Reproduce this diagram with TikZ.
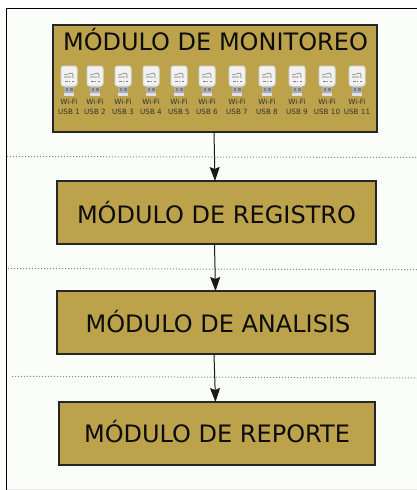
\documentclass[tikz,border=0pt]{standalone}
\usepackage{fontspec}
\setmainfont{DejaVu Sans}
\definecolor{mygold}{RGB}{187,162,75}
\definecolor{mypaper}{RGB}{251,253,249}
\tikzset{
	modulo/.style={rectangle,draw=black!85,fill=mygold,line width=1.2pt,inner sep=0pt,outer sep=0pt,minimum height=63pt,font=\fontsize{24}{26}\selectfont,text=black!95},
	usbtext/.style={inner sep=0pt,align=center,font=\fontsize{7.2}{9.8}\selectfont,text=black!80},
	corte/.style={draw=black!45,line width=1pt,dash pattern=on 1.2pt off 1.8pt},
	flecha/.style={draw=black!90,line width=1pt,-{Stealth[length=14pt,width=10pt,inset=2pt]}},
	usbwifi/.pic={
		\fill[black!32] (-5,19) rectangle (5,30);
		\fill[black!12] (-5,27) rectangle (5,30);
		\fill[black!50] (-3.5,22) rectangle (-1,24.5);
		\fill[black!50] (1,22) rectangle (3.5,24.5);
		\draw[black!15,fill=black!5,line width=1pt,rounded corners=2.5pt] (-8,0) rectangle (8,20);
		\draw[black!55,line width=.6pt] (-5,9) -- (3,7) -- (4,9) -- (4,12) (-5,11) -- (2,11);
		\draw[black!50,line width=.6pt] (-4,15) -- (-1,15) (0,15) -- (1,15) (3,15) -- (5,15);
	}
}
\usetikzlibrary{arrows.meta}
\begin{document}
\begin{tikzpicture}[x=1pt,y=-1pt]
	\useasboundingbox (0,0) rectangle (417,490);
	\fill[mypaper] (6.5,8.5) rectangle (417,489);
	\draw[black,line width=1pt] (417,8.5) -- (6.5,8.5) -- (6.5,490);
	\draw[black!8,line width=.8pt] (6.5,489) -- (417,489);
	
	\coordinate (c1a) at (7,156.5);
	\coordinate (c1b) at (417,157.5);
	\coordinate (c2a) at (8,268.5);
	\coordinate (c2b) at (417,269.7);
	\coordinate (c3a) at (12,376.3);
	\coordinate (c3b) at (417,378);
	\foreach \a/\b in {c1a/c1b,c2a/c2b,c3a/c3b}
	\draw[corte] (\a) -- (\b);
	
	\node[modulo,minimum width=324pt,minimum height=107pt,line width=2pt] (monitoreo) at (215,78.5) {};
	\node[modulo,minimum width=319pt,text height=23pt] (registro) at (216.5,212.5) {MÓDULO DE REGISTRO};
	\node[modulo,minimum width=318pt,text height=20pt] (analisis) at (216,322.5) {\hspace*{4pt}MÓDULO DE ANALISIS};
	\node[modulo,minimum width=316pt,text height=18.5pt] (reporte) at (217,433.5) {MÓDULO DE REPORTE};
	\node[anchor=base,inner sep=0pt,font=\fontsize{24}{26}\selectfont,text=black!95] (titulo) at (215.5,50) {MÓDULO DE MONITOREO};
	
	\foreach \n/\x in {1/69,2/95,3/123,4/151,5/179,6/207,7/237,8/267,9/297,10/327,11/357}
	{
		\pic at (\x,66) {usbwifi};
		\node[usbtext] (usb\n) at (\x,107) {Wi-Fi\\USB \n};
	}
	
	\foreach \a/\b/\p/\q in {monitoreo/registro/-1/-1.5,registro/analisis/-2/-.5,analisis/reporte/-2/-1.5}
	\draw[flecha] ([xshift=\p pt]\a.south) -- ([xshift=\q pt]\b.north);
\end{tikzpicture}
\end{document}
